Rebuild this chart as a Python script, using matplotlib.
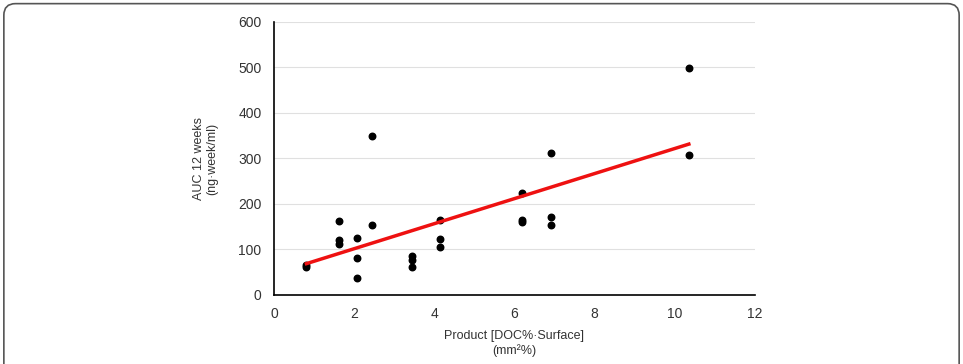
import numpy as np
import matplotlib
matplotlib.use("Agg")
import matplotlib.pyplot as plt
from matplotlib.patches import FancyBboxPatch

plt.rcParams['font.family'] = ['Liberation Sans Narrow', 'Liberation Sans', 'DejaVu Sans']

# data
product = [0.81, 0.81, 1.63, 1.63, 1.63, 2.06, 2.06, 2.06, 2.45, 2.45,
           3.45, 3.45, 3.45, 4.13, 4.13, 4.13, 6.2, 6.2, 6.2,
           6.9, 6.9, 6.9, 10.35, 10.35]
auc = [62, 67, 163, 121, 112, 126, 81, 38, 349, 154,
       86, 77, 62, 164, 122, 106, 225, 165, 161,
       311, 171, 153, 498, 307]

x = np.array(product)
y = np.array(auc)
slope, intercept = np.polyfit(x, y, 1)
xfit = np.array([x.min(), x.max()])

fig = plt.figure(figsize=(9.63, 3.64), dpi=100)
ax = fig.add_axes([0.2845, 0.1896, 0.4995, 0.75])

ax.scatter(x, y, s=22, color='black', zorder=3)
ax.plot(xfit, slope * xfit + intercept, color='#ee1111', lw=2.5, zorder=4)

ax.set_xlim(0, 12)
ax.set_ylim(0, 600)
ax.set_xticks(range(0, 13, 2))
ax.set_yticks(range(0, 601, 100))
ax.grid(axis='y', color='#e0e0e0', lw=0.8)
ax.set_axisbelow(True)
for s in ['top', 'right']:
    ax.spines[s].set_visible(False)
ax.spines['left'].set_linewidth(1.2)
ax.spines['bottom'].set_linewidth(1.2)
ax.tick_params(length=0, labelsize=10, colors='#333333', pad=9)

ax.set_xlabel("Product [DOC%·Surface]\n(mm²%)", fontsize=9, color='#333333', labelpad=6)
ax.set_ylabel("AUC 12 weeks\n(ng·week/ml)", fontsize=9, color='#333333', labelpad=14)

# rounded frame around the whole figure
frame = FancyBboxPatch((0.004, -0.05), 0.992, 1.04, boxstyle="round,pad=0,rounding_size=0.012",
                       transform=fig.transFigure, fill=False, edgecolor='#555555', lw=1.2,
                       mutation_aspect=963 / 364)
fig.patches.append(frame)

fig.savefig("out.png", dpi=100)
